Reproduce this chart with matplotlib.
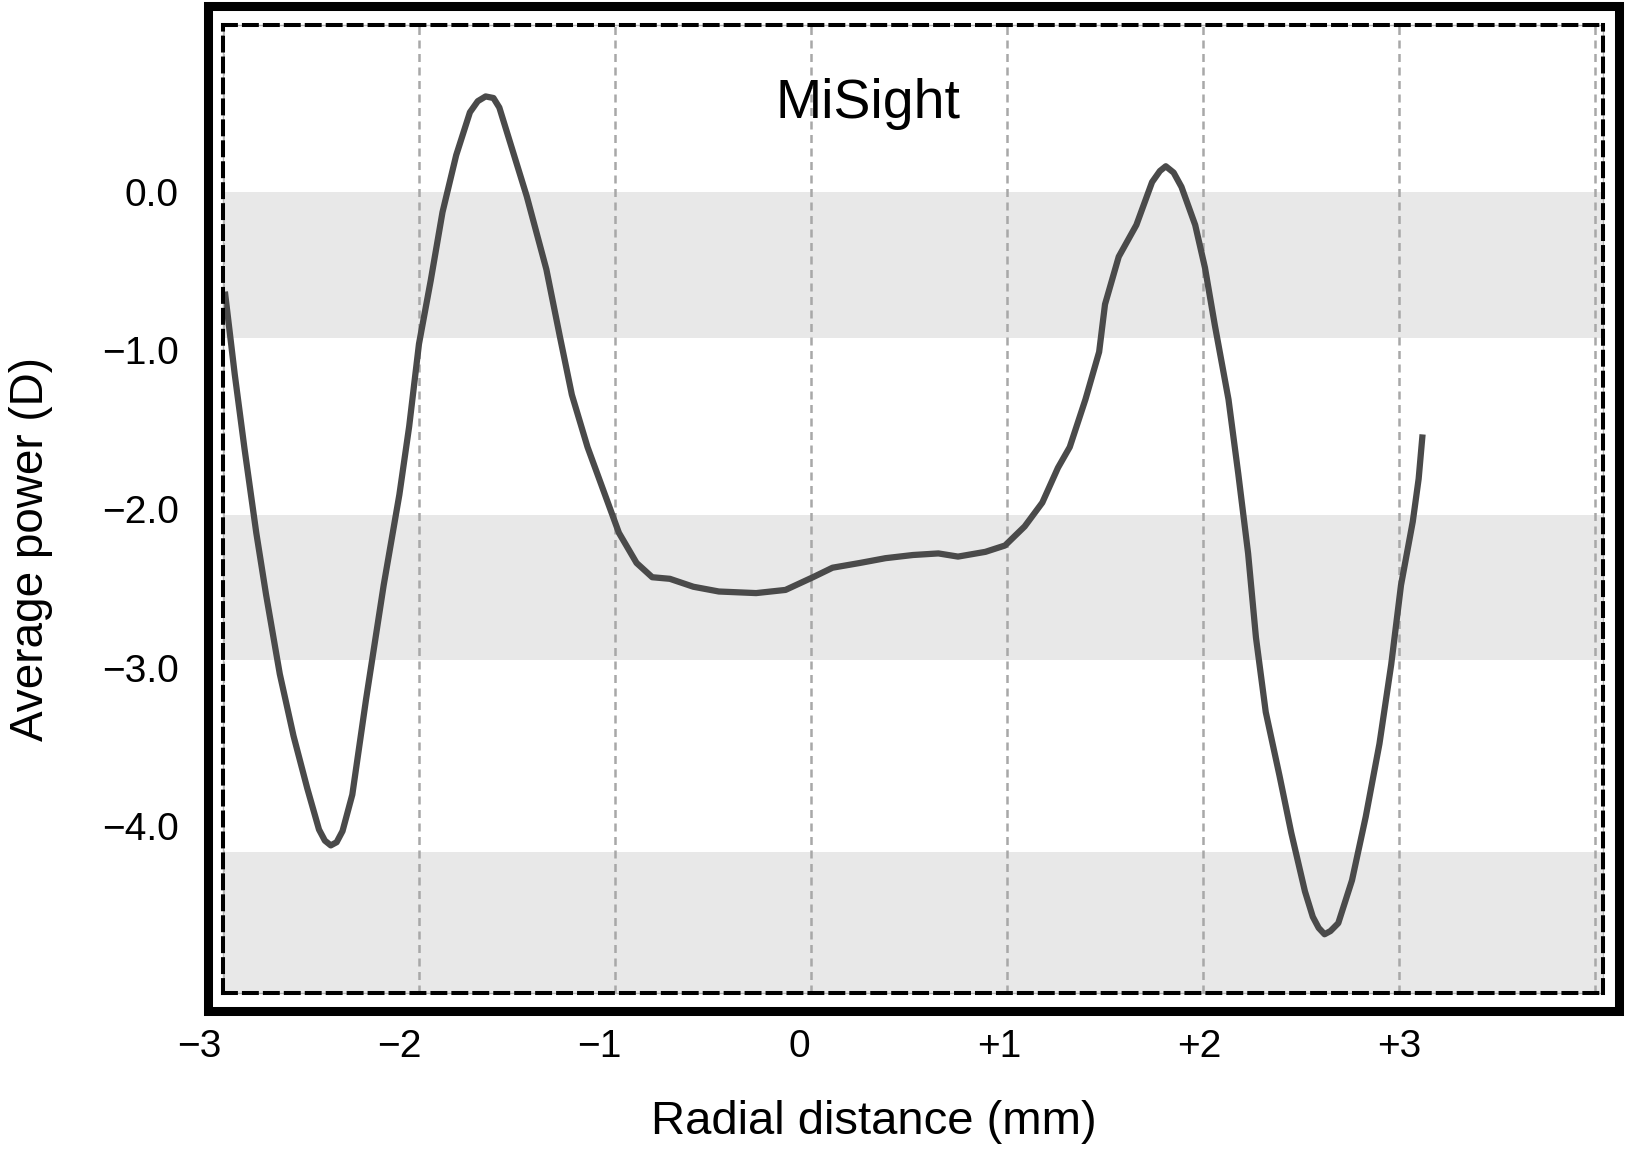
import numpy as np
import matplotlib
matplotlib.use("Agg")
import matplotlib.pyplot as plt
from matplotlib.patches import Rectangle
from matplotlib.transforms import ScaledTranslation

plt.rcParams['font.family'] = ['Liberation Sans', 'DejaVu Sans']

# --- data ---
radial_mm = [-2.99, -2.94, -2.89, -2.83, -2.78, -2.71, -2.64, -2.57, -2.51, -2.48,
             -2.45, -2.42, -2.39, -2.34, -2.27, -2.18, -2.10, -2.05, -2.00, -1.94,
             -1.88, -1.81, -1.74, -1.70, -1.66, -1.62, -1.59, -1.54, -1.45, -1.35,
             -1.28, -1.22, -1.14, -1.06, -0.98, -0.89, -0.81, -0.72, -0.60, -0.47,
             -0.28, -0.13, 0.01, 0.11, 0.25, 0.38, 0.52, 0.65, 0.75, 0.89,
             0.99, 1.09, 1.18, 1.26, 1.32, 1.40, 1.47, 1.50, 1.57, 1.66,
             1.74, 1.78, 1.81, 1.85, 1.89, 1.96, 2.01, 2.06, 2.13, 2.18,
             2.23, 2.27, 2.32, 2.39, 2.45, 2.52, 2.56, 2.59, 2.62, 2.65,
             2.69, 2.76, 2.83, 2.90, 2.96, 3.01, 3.07, 3.10, 3.12]
power_D = [-0.63, -1.15, -1.62, -2.15, -2.54, -3.04, -3.43, -3.76, -4.02, -4.09,
           -4.12, -4.10, -4.03, -3.80, -3.20, -2.48, -1.91, -1.48, -0.96, -0.56,
           -0.13, 0.23, 0.50, 0.57, 0.60, 0.59, 0.53, 0.33, -0.03, -0.49,
           -0.92, -1.28, -1.61, -1.88, -2.15, -2.34, -2.43, -2.44, -2.49, -2.52,
           -2.53, -2.51, -2.43, -2.37, -2.34, -2.31, -2.29, -2.28, -2.30, -2.27,
           -2.23, -2.11, -1.96, -1.74, -1.61, -1.31, -1.01, -0.71, -0.41, -0.21,
           0.06, 0.13, 0.16, 0.12, 0.03, -0.21, -0.48, -0.84, -1.31, -1.78,
           -2.28, -2.81, -3.28, -3.68, -4.04, -4.41, -4.57, -4.64, -4.68, -4.66,
           -4.61, -4.34, -3.94, -3.48, -2.98, -2.48, -2.08, -1.81, -1.53]

# shaded bands (top, bottom) in dioptres
bands = [(0.0, -0.92), (-2.04, -2.95), (-4.16, -5.10)]

y_ticks = [0, -1, -2, -3, -4]
y_ticklabels = ["0.0", "\u22121.0", "\u22122.0", "\u22123.0", "\u22124.0"]
x_ticks = [-3, -2, -1, 0, 1, 2, 3, 4]
x_ticklabels = ["\u22123", "\u22122", "\u22121", "0", "+1", "+2", "+3", ""]

fig = plt.figure(figsize=(16.25, 11.53), dpi=100)
ax = fig.add_axes([0.1372, 0.1388, 0.8492, 0.8395])

for top, bottom in bands:
    ax.axhspan(bottom, top, color="#e8e8e8", lw=0, zorder=0.1)

ax.plot(radial_mm, power_D, color="#4a4a4a", lw=4.5,
        solid_joinstyle="round", solid_capstyle="butt", zorder=3)

ax.set_xlim(-3, 4.04)
ax.set_ylim(-5.05, 1.05)

# vertical dashed grid
ax.set_xticks(x_ticks)
ax.set_xticklabels(x_ticklabels)
ax.set_axisbelow(True)
ax.grid(axis="x", color="#a8a8a8", lw=1.8, linestyle=(0, (3.2, 2.2)))
ax.tick_params(axis="x", length=0, pad=26, labelsize=28)

# in the source figure the labels drift a little left of their grid lines
for tick, lab in zip(x_ticks, ax.get_xticklabels()):
    dx = (4 * tick - 12) / 100.0
    lab.set_transform(lab.get_transform() + ScaledTranslation(dx, 0, fig.dpi_scale_trans))

ax.set_yticks(y_ticks)
ax.set_yticklabels(y_ticklabels)
ax.tick_params(axis="y", length=0, pad=32, labelsize=28)

for s in ax.spines.values():
    s.set_color("black")
    s.set_linewidth(2.9)
    s.set_linestyle((0, (3.2, 2.0)))
    s.set_zorder(4)

# faint solid line beneath the dashed border
ax.add_patch(Rectangle((0, 0), 1, 1, transform=ax.transAxes, fill=False,
                       edgecolor="#b5b5b5", lw=1.0, zorder=3.5, clip_on=False))

ax.set_xlabel("Radial distance (mm)", fontsize=34, va="center")
ax.xaxis.set_label_coords(0.4717, -0.1333)
ax.set_ylabel("Average power (D)", fontsize=33, va="center")
ax.yaxis.set_label_coords(-0.139, 0.4587)

ax.text(0.4674, 0.9039, "MiSight", transform=ax.transAxes, fontsize=40,
        ha="center", va="baseline")

# thick outer frame
frame = Rectangle((0.1277, 0.1232), 0.8686, 0.8716, transform=fig.transFigure,
                  fill=False, edgecolor="black", lw=6.5)
fig.add_artist(frame)

fig.savefig("out.png", dpi=100)
